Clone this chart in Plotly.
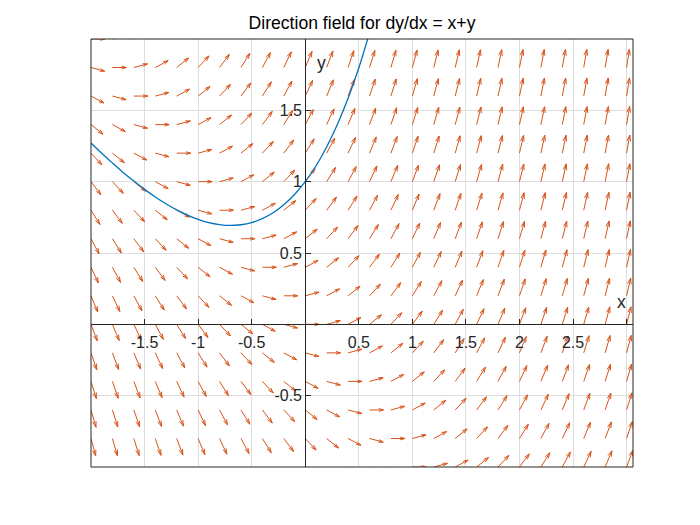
import math
import plotly.graph_objects as go

# ---------------- data ----------------
title_text = "Direction field for dy/dx = x+y"

# grid points of the direction field (slope dy/dx = x + y at each point)
grid_x = [-2.0, -1.8, -1.6, -1.4, -1.2, -1.0, -0.8, -0.6, -0.4, -0.2, 0.0,
          0.2, 0.4, 0.6, 0.8, 1.0, 1.2, 1.4, 1.6, 1.8, 2.0, 2.2, 2.4, 2.6,
          2.8, 3.0]
grid_y = [-1.0, -0.8, -0.6, -0.4, -0.2, 0.0, 0.2, 0.4, 0.6, 0.8, 1.0, 1.2,
          1.4, 1.6, 1.8, 2.0]

# solution curve through (0, 1)
curve_x = [-2.0, -1.9, -1.8, -1.7, -1.6, -1.5, -1.4, -1.3, -1.2, -1.1, -1.0,
           -0.9, -0.8, -0.7, -0.6, -0.5, -0.4, -0.3, -0.2, -0.1, 0.0, 0.1,
           0.2, 0.3, 0.4, 0.5, 0.6]
curve_y = [1.271, 1.199, 1.131, 1.065, 1.004, 0.946, 0.893, 0.845, 0.802,
           0.766, 0.736, 0.713, 0.699, 0.693, 0.698, 0.713, 0.741, 0.782,
           0.838, 0.910, 1.000, 1.110, 1.243, 1.400, 1.584, 1.797, 2.044]

x_tick_vals = [-2, -1.5, -1, -0.5, 0, 0.5, 1, 1.5, 2, 2.5, 3]
x_tick_text = ["", "-1.5", "-1", "-0.5", "", "0.5", "1", "1.5", "2", "2.5", ""]
y_tick_vals = [-1, -0.5, 0, 0.5, 1, 1.5, 2]
y_tick_text = ["", "-0.5", "", "0.5", "1", "1.5", ""]

# ---------------- layout constants ----------------
X_RANGE = [-2.0, 3.06]
Y_RANGE = [-1.0, 2.0]
W, H = 692, 517          # page body adds an 8px offset
MARGIN = dict(l=83, r=67, t=31, b=58)
SX = (W - MARGIN["l"] - MARGIN["r"]) / (X_RANGE[1] - X_RANGE[0])
SY = (H - MARGIN["t"] - MARGIN["b"]) / (Y_RANGE[1] - Y_RANGE[0])

ARROW_LEN = 0.13
HEAD_A = 0.33
HEAD_B = 0.3

FIELD_COLOR = "#D95319"
CURVE_COLOR = "#0072BD"
AX_COLOR = "#262626"
FONT = "Liberation Sans, Arial, Helvetica, sans-serif"

# ---------------- arrows ----------------
ax, ay = [], []
for yv in grid_y:
    for xv in grid_x:
        s = xv + yv
        n = math.hypot(1.0, s)
        u = ARROW_LEN / n
        v = ARROW_LEN * s / n
        tx, ty = xv + u, yv + v
        pu, pv = u * SX, v * SY
        h1x = tx - HEAD_A * (pu + HEAD_B * pv) / SX
        h1y = ty - HEAD_A * (pv - HEAD_B * pu) / SY
        h2x = tx - HEAD_A * (pu - HEAD_B * pv) / SX
        h2y = ty - HEAD_A * (pv + HEAD_B * pu) / SY
        ax += [xv, tx, None, h1x, tx, h2x, None]
        ay += [yv, ty, None, h1y, ty, h2y, None]

fig = go.Figure()
fig.add_trace(go.Scatter(x=ax, y=ay, mode="lines",
                         line=dict(color=FIELD_COLOR, width=1),
                         hoverinfo="skip", showlegend=False))
fig.add_trace(go.Scatter(x=curve_x, y=curve_y, mode="lines",
                         line=dict(color=CURVE_COLOR, width=1.3, shape="spline"),
                         hoverinfo="skip", showlegend=False))

x_pos = (0 - Y_RANGE[0]) / (Y_RANGE[1] - Y_RANGE[0])
y_pos = (0 - X_RANGE[0]) / (X_RANGE[1] - X_RANGE[0])

tickfont = dict(family=FONT, size=16, color=AX_COLOR)

fig.update_layout(
    width=W, height=H,
    margin=dict(**MARGIN, pad=0),
    paper_bgcolor="white", plot_bgcolor="white",
    showlegend=False,
    title=dict(text=title_text, x=0.5, xref="paper", xanchor="center",
               y=1, yref="paper", yanchor="bottom", pad=dict(b=10),
               font=dict(family=FONT, size=17.6, color="#000000")),
    xaxis=dict(range=X_RANGE, anchor="free", position=x_pos,
               tickvals=x_tick_vals, ticktext=x_tick_text,
               ticks="inside", ticklen=5, tickcolor=AX_COLOR, tickwidth=1,
               ticklabelstandoff=3,
               showline=True, linecolor=AX_COLOR, linewidth=1,
               showgrid=True, gridcolor="#dedede", gridwidth=1,
               zeroline=False, tickfont=tickfont, automargin=False,
               fixedrange=True),
    yaxis=dict(range=Y_RANGE, anchor="free", position=y_pos,
               tickvals=y_tick_vals, ticktext=y_tick_text,
               ticks="inside", ticklen=5, tickcolor=AX_COLOR, tickwidth=1,
               showline=True, linecolor=AX_COLOR, linewidth=1,
               showgrid=True, gridcolor="#dedede", gridwidth=1,
               zeroline=False, tickfont=tickfont, automargin=False,
               fixedrange=True),
    shapes=[dict(type="rect", xref="paper", yref="paper", x0=0, y0=0, x1=1, y1=1,
                 line=dict(color=AX_COLOR, width=1), fillcolor="rgba(0,0,0,0)",
                 layer="above")],
    annotations=[
        dict(text="x", x=2.95, y=0.154, xref="x", yref="y", showarrow=False,
             font=dict(family=FONT, size=17.6, color=AX_COLOR)),
        dict(text="y", x=0.156, y=1.83, xref="x", yref="y", showarrow=False,
             font=dict(family=FONT, size=17.6, color=AX_COLOR)),
    ],
)

fig.write_html("out.html")
